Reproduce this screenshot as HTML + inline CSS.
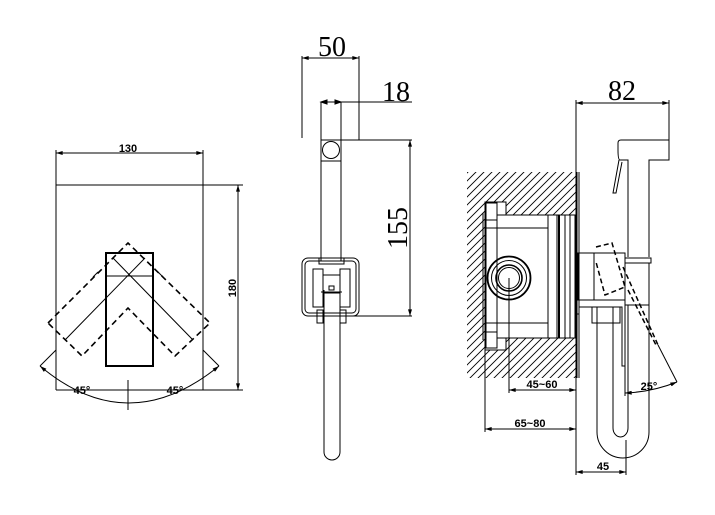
<!DOCTYPE html>
<html><head><meta charset="utf-8"><style>html,body{margin:0;padding:0;background:#fff}svg{display:block}</style></head><body>
<svg width="715" height="515" viewBox="0 0 715 515" xmlns="http://www.w3.org/2000/svg" font-family="Liberation Sans, sans-serif">
<defs>
<marker id="a" viewBox="0 0 10 6" refX="10" refY="3" markerWidth="8" markerHeight="4" orient="auto-start-reverse"><path d="M0,0L10,3L0,6z" fill="#000"/></marker>
<pattern id="h" patternUnits="userSpaceOnUse" width="8" height="8"><path d="M-2,10L10,-2M-2,2L2,-2M6,10L10,6" stroke="#000" stroke-width="0.9"/></pattern>
</defs>
<g fill="none" stroke="#000" stroke-width="1">
<line x1="56" y1="153" x2="203" y2="153" marker-start="url(#a)" marker-end="url(#a)"/>
<line x1="56" y1="150" x2="56" y2="390"/>
<line x1="203" y1="150" x2="203" y2="390"/>
<line x1="56" y1="185" x2="243" y2="185"/>
<line x1="56" y1="390" x2="243" y2="390"/>
<line x1="238" y1="185" x2="238" y2="390" marker-start="url(#a)" marker-end="url(#a)"/>
<rect x="106" y="253" width="47" height="113" stroke-width="2"/>
<line x1="106" y1="276" x2="153" y2="276"/>
<g stroke-dasharray="6,4" stroke-width="1.6">
<path d="M48,323L128,243L210,323L175,356L128,308L82,356Z"/>
</g>
<line x1="113" y1="258" x2="193" y2="340"/>
<line x1="145" y1="258" x2="65" y2="340"/>
<line x1="93" y1="277" x2="98" y2="272"/><line x1="163" y1="277" x2="158" y2="272"/>
<line x1="56" y1="350" x2="40" y2="366"/>
<line x1="203" y1="350" x2="219" y2="366"/>
<path d="M40,366 Q128,440 219,366" marker-start="url(#a)" marker-end="url(#a)"/>
<line x1="128" y1="380" x2="128" y2="410"/>
<line x1="302" y1="58" x2="359" y2="58" marker-start="url(#a)" marker-end="url(#a)"/>
<line x1="302" y1="56" x2="302" y2="138"/>
<line x1="359" y1="56" x2="359" y2="140"/>
<line x1="321" y1="102" x2="412" y2="102"/>
<line x1="321" y1="102" x2="321" y2="140"/>
<line x1="341" y1="102" x2="341" y2="140"/>
<path d="M321,102l6,-2v4z M341,102l-6,-2v4z" fill="#000"/>
<line x1="321" y1="140" x2="412" y2="140"/>
<line x1="410" y1="140" x2="410" y2="316" marker-start="url(#a)" marker-end="url(#a)"/>
<line x1="345" y1="316" x2="412" y2="316"/>
<rect x="321" y="140" width="20" height="121"/>
<line x1="321" y1="161" x2="341" y2="161"/>
<circle cx="331" cy="150" r="8.5"/>
<rect x="302" y="258" width="57" height="58" rx="6"/>
<rect x="305" y="261" width="51" height="52" rx="4"/>
<rect x="319" y="258" width="25" height="6"/>
<rect x="313" y="269" width="10" height="38"/>
<rect x="340" y="269" width="10" height="38"/>
<rect x="323" y="275" width="17" height="18"/>
<rect x="329" y="286" width="5" height="4"/>
<rect x="317" y="310" width="6" height="13"/>
<rect x="340" y="310" width="6" height="13"/>
<path d="M324,290V452A8,8 0 0 0 340,452V290"/>
<line x1="321" y1="292" x2="342" y2="292"/>
<rect x="467" y="172" width="110" height="206" fill="url(#h)" stroke="none"/>
<path d="M485,202H506V215H577V338H506V350H485Z" fill="#fff" stroke="#000"/>
<line x1="483" y1="213" x2="483" y2="340"/>
<line x1="486" y1="203" x2="486" y2="348"/>
<rect x="486" y="203" width="11" height="25"/><line x1="486" y1="220" x2="497" y2="220"/>
<rect x="486" y="323" width="11" height="25"/><line x1="486" y1="332" x2="497" y2="332"/>
<rect x="497" y="215" width="51" height="123"/>
<line x1="497" y1="228" x2="548" y2="228"/><line x1="497" y1="323" x2="548" y2="323"/>
<line x1="557" y1="215" x2="557" y2="338"/>
<line x1="559" y1="215" x2="559" y2="338" stroke-width="2"/>
<line x1="565" y1="215" x2="565" y2="338"/>
<line x1="570" y1="215" x2="570" y2="338"/>
<line x1="575" y1="215" x2="575" y2="338"/>
<line x1="577" y1="172" x2="577" y2="378"/>
<line x1="579" y1="172" x2="579" y2="378"/>
<circle cx="509" cy="278" r="21.5" stroke-width="1.8"/>
<circle cx="509" cy="278" r="17.5"/>
<circle cx="509" cy="278" r="13" stroke-width="1.6"/>
<circle cx="509" cy="278" r="10.5"/>
<line x1="509" y1="278" x2="509" y2="393"/>
<line x1="509" y1="390" x2="576" y2="390" marker-start="url(#a)" marker-end="url(#a)"/>
<line x1="485" y1="340" x2="485" y2="432"/>
<line x1="485" y1="429" x2="576" y2="429" marker-start="url(#a)" marker-end="url(#a)"/>
<line x1="576" y1="100" x2="576" y2="475"/>
<line x1="576" y1="103" x2="669" y2="103" marker-start="url(#a)" marker-end="url(#a)"/>
<line x1="669" y1="100" x2="669" y2="160"/>
<line x1="576" y1="472" x2="626" y2="472" marker-start="url(#a)" marker-end="url(#a)"/>
<line x1="626" y1="440" x2="626" y2="475"/>
<path d="M628,257V160H620Q618,160 618,150V143Q618,140 621,140H669V160H649V257"/>
<path d="M619,160L613,193L616,193L622,162"/>
<rect x="578" y="253" width="47" height="47"/>
<line x1="594" y1="253" x2="594" y2="300"/>
<rect x="625" y="258" width="26" height="5"/>
<path d="M625,263H649V305H625"/>
<path d="M579,300H625V366H622V307H579Z"/>
<rect x="575" y="300" width="4" height="14"/>
<rect x="592" y="307" width="28" height="16"/>
<line x1="597" y1="307" x2="597" y2="323"/><line x1="613" y1="307" x2="613" y2="323"/>
<path d="M597,323V432A26,26 0 0 0 649,432V305"/>
<path d="M613,323V428A7.5,9 0 0 0 628,428V305"/>
<g stroke-dasharray="5,3" stroke-width="1.5">
<path d="M596,247L612,243L625,287L605,295L596,262"/>
<line x1="623" y1="267" x2="658" y2="345"/>
<line x1="628" y1="290" x2="656" y2="345"/>
</g>
<line x1="658" y1="345" x2="677" y2="382"/>
<line x1="625" y1="366" x2="625" y2="396"/>
<path d="M625,393Q652,392 677,382" marker-start="url(#a)" marker-end="url(#a)"/>
</g>
<g fill="#000" font-size="11" font-weight="bold" text-anchor="middle">
<text x="128" y="152">130</text>
<text x="236" y="288" transform="rotate(-90 236 288)">180</text>
<text x="82" y="394">45°</text>
<text x="175" y="394">45°</text>
<text x="542" y="388">45~60</text>
<text x="530" y="427">65~80</text>
<text x="603" y="470">45</text>
<text x="649" y="390">25°</text>
</g>
<g fill="#000" font-family="Liberation Serif, serif" font-size="28" text-anchor="middle">
<text x="332" y="56">50</text>
<text x="396" y="101">18</text>
<text x="622" y="100">82</text>
<text x="407" y="228" transform="rotate(-90 407 228)">155</text>
</g>
</svg>
</body></html>
